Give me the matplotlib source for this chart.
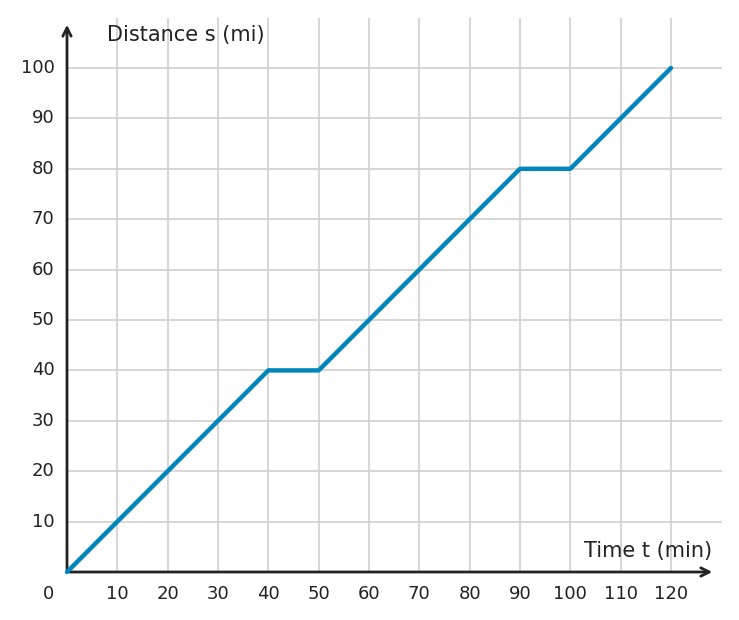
import matplotlib
matplotlib.use("Agg")
import matplotlib.pyplot as plt

t = [0, 40, 50, 90, 100, 120]
s = [0, 40, 40, 80, 80, 100]
xticks = [10, 20, 30, 40, 50, 60, 70, 80, 90, 100, 110, 120]
yticks = [10, 20, 30, 40, 50, 60, 70, 80, 90, 100]

fig = plt.figure(figsize=(7.39, 6.2), dpi=100)
W, H = 739, 620
x0, x1 = 67, 722
y0, y1 = 572, 18
ax = fig.add_axes([x0/W, (H-y0)/H, (x1-x0)/W, (y0-y1)/H])
xmax = (x1-x0)/((671-67)/120)
ymax = (y0-y1)/((572-68)/100)
ax.set_xlim(0, xmax)
ax.set_ylim(0, ymax)
for sp in ax.spines.values():
    sp.set_visible(False)
ax.set_xticks([]); ax.set_yticks([])
for v in xticks:
    ax.axvline(v, color='#d0d0d0', lw=1.2, zorder=0)
    ax.text(v, -2.5, str(v), ha='center', va='top', fontsize=13, color='#222222')
for v in yticks:
    ax.axhline(v, color='#d0d0d0', lw=1.2, zorder=0)
    ax.text(-2.5, v, str(v), ha='right', va='center', fontsize=13, color='#222222')
ax.text(-2.5, -2.5, "0", ha='right', va='top', fontsize=13, color='#222222')
ax.annotate('', xy=((715-67)/5.033, 0), xytext=(0, 0),
            arrowprops=dict(arrowstyle='->', color='#222222', lw=2, mutation_scale=15),
            annotation_clip=False)
ax.annotate('', xy=(0, (572-22)/5.04), xytext=(0, 0),
            arrowprops=dict(arrowstyle='->', color='#222222', lw=2, mutation_scale=15),
            annotation_clip=False)
ax.plot(t, s, color='#0085bd', lw=3.2, solid_capstyle='round', zorder=3, clip_on=False)
ax.text(8, (572-35)/5.04, "Distance s (mi)", ha='left', va='center', fontsize=15, color='#222222')
ax.text((712-67)/5.033, (572-551)/5.04, "Time t (min)", ha='right', va='center', fontsize=15, color='#222222')
fig.savefig("out.png", dpi=100)
